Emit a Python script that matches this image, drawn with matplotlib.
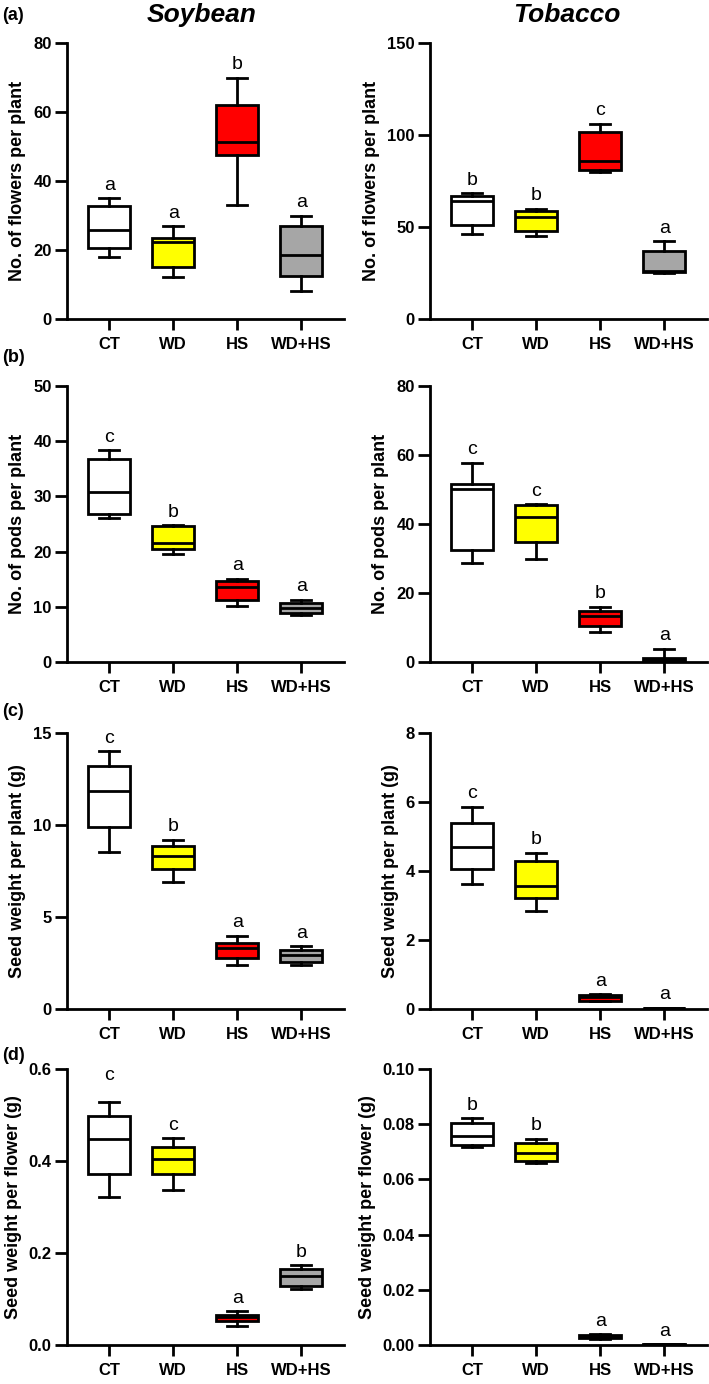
import matplotlib
matplotlib.use("Agg")
import matplotlib.pyplot as plt

plt.rcParams["font.family"] = ["Liberation Sans", "DejaVu Sans"]

groups = ["CT", "WD", "HS", "WD+HS"]
box_colors = ["white", "#FFFF00", "#FF0000", "#A6A6A6"]

# each row: whisker low, Q1, median, Q3, whisker high
soy_flowers = [
    [18.1, 20.6, 25.9, 32.8, 35.0],
    [12.1, 15.1, 22.3, 23.5, 26.9],
    [33.0, 47.6, 51.4, 61.9, 70.0],
    [8.0, 12.6, 18.6, 27.1, 30.0],
]
soy_flowers_letters = ["a", "a", "b", "a"]

tob_flowers = [
    [46.2, 50.9, 64.1, 66.7, 68.5],
    [44.9, 48.0, 55.6, 58.9, 60.0],
    [80.1, 80.8, 85.9, 101.4, 106.2],
    [25.0, 25.4, 26.0, 37.1, 42.4],
]
tob_flowers_letters = ["b", "b", "c", "a"]

soy_pods = [
    [26.1, 26.9, 30.8, 36.8, 38.4],
    [19.5, 20.4, 21.6, 24.6, 24.8],
    [10.2, 11.3, 13.5, 14.6, 15.1],
    [8.5, 8.9, 9.8, 10.7, 11.3],
]
soy_pods_letters = ["c", "b", "a", "a"]

tob_pods = [
    [28.8, 32.4, 50.1, 51.5, 57.8],
    [30.0, 34.9, 41.9, 45.6, 45.8],
    [8.7, 10.3, 13.2, 14.7, 16.0],
    [0.0, 0.2, 0.8, 1.2, 3.9],
]
tob_pods_letters = ["c", "c", "b", "a"]

soy_seed_plant = [
    [8.51, 9.89, 11.86, 13.19, 14.0],
    [6.91, 7.60, 8.31, 8.85, 9.20],
    [2.39, 2.78, 3.34, 3.59, 3.99],
    [2.39, 2.58, 2.96, 3.21, 3.41],
]
soy_seed_plant_letters = ["c", "b", "a", "a"]

tob_seed_plant = [
    [3.63, 4.06, 4.69, 5.38, 5.86],
    [2.85, 3.22, 3.57, 4.28, 4.53],
    [0.22, 0.23, 0.34, 0.42, 0.43],
    [0.01, 0.02, 0.025, 0.035, 0.04],
]
tob_seed_plant_letters = ["c", "b", "a", "a"]

soy_seed_flower = [
    [0.322, 0.371, 0.447, 0.497, 0.528],
    [0.336, 0.372, 0.405, 0.431, 0.449],
    [0.042, 0.052, 0.060, 0.065, 0.074],
    [0.122, 0.129, 0.151, 0.165, 0.173],
]
soy_seed_flower_letters = ["c", "c", "a", "b"]

tob_seed_flower = [
    [0.0716, 0.0724, 0.0758, 0.0804, 0.0821],
    [0.0661, 0.0667, 0.0697, 0.0733, 0.0748],
    [0.0021, 0.0024, 0.0030, 0.0036, 0.0040],
    [0.0001, 0.0001, 0.0002, 0.0003, 0.0003],
]
tob_seed_flower_letters = ["b", "b", "a", "a"]

rows = [
    ("No. of flowers per plant",
     (soy_flowers, soy_flowers_letters, 80, 20),
     (tob_flowers, tob_flowers_letters, 150, 50)),
    ("No. of pods per plant",
     (soy_pods, soy_pods_letters, 50, 10),
     (tob_pods, tob_pods_letters, 80, 20)),
    ("Seed weight per plant (g)",
     (soy_seed_plant, soy_seed_plant_letters, 15, 5),
     (tob_seed_plant, tob_seed_plant_letters, 8, 2)),
    ("Seed weight per flower (g)",
     (soy_seed_flower, soy_seed_flower_letters, 0.6, 0.2),
     (tob_seed_flower, tob_seed_flower_letters, 0.10, 0.02)),
]

W, H = 709, 1384
fig = plt.figure(figsize=(W / 100, H / 100), dpi=100)

col_left = [67, 430]
ax_w = 277
row_bottom = [319, 662, 1009, 1345]
ax_h = 276


def draw_panel(ax, data, letters, ymax, ystep, ylabel, extra_lift=None):
    stats = []
    for d, g in zip(data, groups):
        stats.append({"whislo": d[0], "q1": d[1], "med": d[2],
                      "q3": d[3], "whishi": d[4], "label": g})
    lw = 2.0
    bp = ax.bxp(stats, positions=[1, 2, 3, 4], widths=0.65,
                capwidths=0.31, showfliers=False, patch_artist=True,
                boxprops={"linewidth": lw, "edgecolor": "black"},
                medianprops={"linewidth": lw, "color": "black"},
                whiskerprops={"linewidth": lw, "color": "black"},
                capprops={"linewidth": lw, "color": "black"})
    for patch, c in zip(bp["boxes"], box_colors):
        patch.set_facecolor(c)
    for i, (d, let) in enumerate(zip(data, letters)):
        lift = 6
        if extra_lift is not None:
            lift += extra_lift[i]
        ax.annotate(let, (i + 1, d[4]), xytext=(0, lift),
                    textcoords="offset points", ha="center",
                    va="baseline", fontsize=14)
    ax.set_xlim(0.34, 4.67)
    ax.set_ylim(0, ymax)
    n = int(round(ymax / ystep))
    ax.set_yticks([ystep * k for k in range(n + 1)])
    ax.set_xticks([1, 2, 3, 4])
    ax.set_xticklabels(groups, fontsize=12, fontweight="bold")
    for lab in ax.get_yticklabels():
        lab.set_fontsize(12)
        lab.set_fontweight("bold")
    ax.set_ylabel(ylabel, fontsize=13, fontweight="bold", labelpad=5)
    for s in ["top", "right"]:
        ax.spines[s].set_visible(False)
    for s in ["left", "bottom"]:
        ax.spines[s].set_linewidth(2)
    ax.tick_params(axis="y", length=9, width=2, pad=2)
    ax.tick_params(axis="x", length=8, width=2, pad=5)


for r, (ylabel, soy, tob) in enumerate(rows):
    for c, panel in enumerate([soy, tob]):
        rect = [col_left[c] / W, 1 - row_bottom[r] / H, ax_w / W, ax_h / H]
        ax = fig.add_axes(rect)
        data, letters, ymax, ystep = panel
        # the CT letter in (d) Soybean sits higher in the original
        lift = [10, 0, 0, 0] if (r == 3 and c == 0) else None
        draw_panel(ax, data, letters, ymax, ystep, ylabel, lift)

fig.text(201.7 / W, 1 - 15 / H, "Soybean", ha="center", va="center",
         fontsize=19, fontweight="bold", fontstyle="italic")
fig.text(566.7 / W, 1 - 15 / H, "Tobacco", ha="center", va="center",
         fontsize=19, fontweight="bold", fontstyle="italic")
for lab, y in [("(a)", 15), ("(b)", 357), ("(c)", 712), ("(d)", 1056)]:
    fig.text(2 / W, 1 - y / H, lab, ha="left", va="center",
             fontsize=13, fontweight="bold")

fig.savefig("out.png", dpi=100)
